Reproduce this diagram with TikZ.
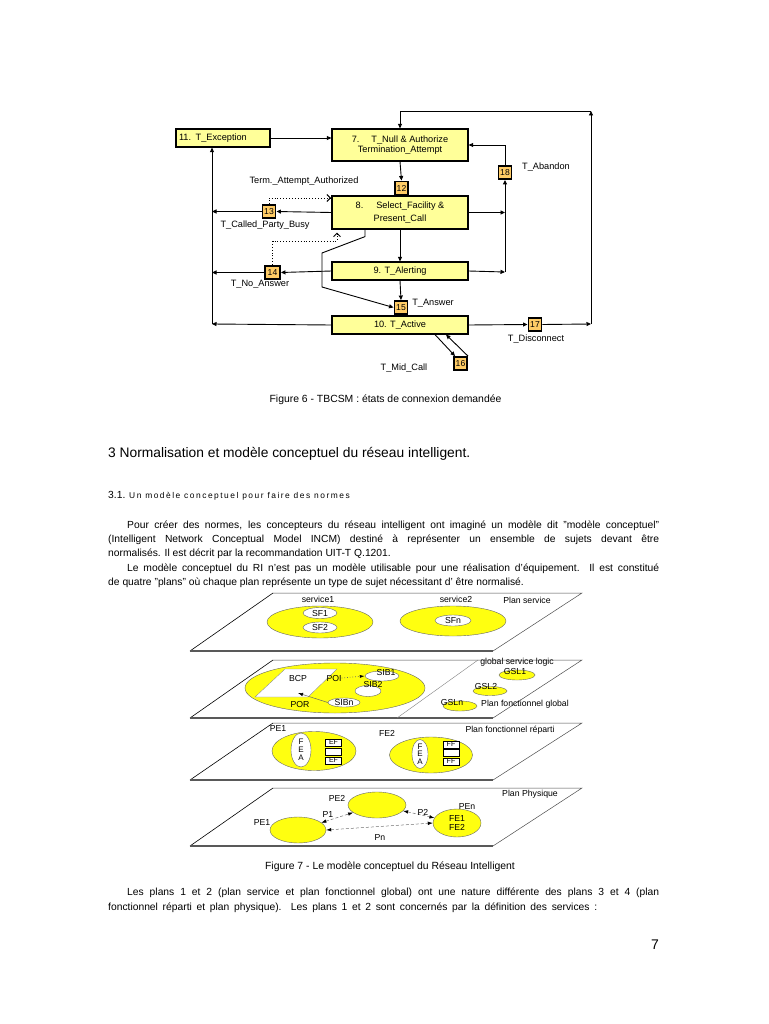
\documentclass[tikz,border=0pt]{standalone}
\usepackage{fontspec}
\setmainfont{Liberation Sans}
\newfontfamily\spacedfont[LetterSpace=18]{Liberation Sans}
\usetikzlibrary{arrows.meta,shapes.geometric,calc}
\definecolor{boxy}{HTML}{FFFF99}
\definecolor{numo}{HTML}{FFCC66}
\definecolor{ely}{HTML}{FFFF10}
\newcommand\labfont{\fontsize{9.2}{10.5}\selectfont}
\newcommand\smfont{\fontsize{8.7}{9}\selectfont}
\newcommand\bodyfont{\fontsize{10.3}{12}\selectfont}
\begin{document}
\begin{tikzpicture}[x=1pt,y=-1pt,
 sbox/.style={draw, line width=1.2pt, fill=boxy, inner sep=1pt, font=\labfont},
 nbox/.style={draw, line width=1.9pt, fill=numo, inner sep=0pt, minimum width=13pt, minimum height=13pt, font=\fontsize{8.6}{9}\selectfont},
 arr/.style={line width=0.9pt, -{Triangle[length=4.5pt,width=4pt]}},
 dotarr/.style={line width=0.9pt, dotted, -{Straight Barb[length=3.5pt,width=7pt]}},
 lab/.style={font=\labfont, inner sep=0pt},
 sl/.style={font=\smfont, inner sep=0pt},
 body/.style={font=\bodyfont, inner sep=0pt, anchor=base west},
 yel/.style={ellipse, draw=black!60, line width=0.4pt, fill=ely, inner sep=0pt},
 wel/.style={ellipse, draw=black!60, line width=0.4pt, fill=white, inner sep=0pt, font=\smfont},
 efb/.style={draw, line width=0.9pt, fill=white, inner sep=0pt, minimum width=16pt, minimum height=7pt, font=\fontsize{7}{7}\selectfont},
 dl/.style={densely dashed, black!55, line width=0.5pt, {Latex[length=5pt,width=3.5pt,black]}-{Latex[length=5pt,width=3.5pt,black]}}
]
\useasboundingbox (0,0) rectangle (768,1024);
\fill[white] (0,0) rectangle (768,1024);

% ---------------- Figure 6 ----------------
\node[sbox, minimum width=94pt, minimum height=18pt, text width=88pt, align=left] (b11) at (223,138) {11. T\_Exception};
\node[sbox, minimum width=136pt, minimum height=32pt, align=center] (b7) at (400,145) {7.\hspace{12pt}T\_Null \& Authorize\\[0pt]Termination\_Attempt};
\node[sbox, minimum width=136pt, minimum height=33pt, align=center] (b8) at (400,212.5) {8.\hspace{13pt}Select\_Facility \&\\[3pt]Present\_Call};
\node[sbox, minimum width=136pt, minimum height=18pt] (b9) at (400,271) {9. T\_Alerting};
\node[sbox, minimum width=136pt, minimum height=18pt] (b10) at (400,325) {10. T\_Active};

\node[nbox] (n12) at (401.5,188) {12};
\node[nbox] (n13) at (269,211.5) {13};
\node[nbox, minimum width=15pt] (n14) at (272.5,272.5) {14};
\node[nbox] (n15) at (401,307.5) {15};
\node[nbox] (n16) at (460.5,363.5) {16};
\node[nbox] (n17) at (535,324.5) {17};
\node[nbox] (n18) at (505,172.5) {18};

\coordinate (lv) at (212,324);
\coordinate (cR) at (591,324);
\coordinate (cTop) at (591,111);
\coordinate (v18b) at (505,272);
\coordinate (v18m) at (505,212.5);
\coordinate (d13) at (331,198);
\coordinate (dA) at (337,241);

\draw[arr] (b11.east) -- (b11.east -| b7.west);
\draw[arr] (n17.east) -- (cR);
\draw[arr] (cR) -- (cTop);
\draw[arr] (cTop) -| (b7.north);
\draw[arr] (b7.south) -- (n12.north);
\draw[arr] (b8.west) -- (n13.east);
\draw[arr] (n13.west) -- (n13.west -| lv);
\draw[dotarr] (n13.north) |- (d13);
\draw[arr] (b8.east) -- (v18m);
\draw[arr] (b9.east) -- (v18b);
\draw[arr] (v18b) -- (n18.south);
\draw[arr] (n18.north) |- (b7.east);
\draw[arr] (b8.south) -- (b9.north);
\draw[dotarr, shorten >=3pt] (n14.north) |- (dA) -- (dA |- b8.south);
\draw[arr] (b9.west) -- (n14.east);
\draw[arr] (n14.west) -- (n14.west -| lv);
\draw[arr] (b9.south) -- (n15.north);
\draw[arr] ([xshift=-35pt]b8.south) -- ++(0,7) -- (322,253) -- (322,287) -- (n15.west);
\draw[arr] (b10.west) -- (lv);
\draw[arr] (lv) -- (lv |- b11.south);
\draw[arr] (b10.east) -- (n17.west);
\draw[arr] ([xshift=35pt]b10.south) -- ([xshift=2pt]n16.north west);
\draw[arr] (n16.north east) -- ([xshift=46pt]b10.south);

\node[lab] (lTAA) at (304,181) {Term.\_Attempt\_Authorized};
\node[lab] (lCPB) at (265,225) {T\_Called\_Party\_Busy};
\node[lab] (lAb) at (546,167) {T\_Abandon};
\node[lab] (lNA) at (260,284) {T\_No\_Answer};
\node[lab] (lAn) at (433,303) {T\_Answer};
\node[lab] (lDis) at (536,339) {T\_Disconnect};
\node[lab] (lMid) at (404,368) {T\_Mid\_Call};

\node[font=\fontsize{10.4}{12}\selectfont, inner sep=0pt, anchor=base] (cap6) at (385.5,402.5) {Figure 6 - TBCSM : états de connexion demandée};

% ---------------- Text ----------------
\node[font=\fontsize{13.8}{16}\selectfont, inner sep=0pt, anchor=base west] (h3) at (108,457.5) {3 Normalisation et modèle conceptuel du réseau intelligent.};
\node[body] (h31) at (108,498) {3.1. {\spacedfont\fontsize{8.4}{10}\selectfont Un modèle conceptuel pour faire des normes}};

\node[body] (p1) at (127,528) {\makebox[532pt][s]{Pour créer des normes, les concepteurs du réseau intelligent ont imaginé un modèle dit "modèle conceptuel"}};
\node[body] (p2) at (108,542.5) {\makebox[551pt][s]{(Intelligent Network Conceptual Model INCM) destiné à représenter un ensemble de sujets devant être}};
\node[body] (p3) at (108,556.5) {normalisés. Il est décrit par la recommandation UIT-T Q.1201.};
\node[body] (p4) at (127,571) {\makebox[532pt][s]{Le modèle conceptuel du RI n'est pas un modèle utilisable pour une réalisation d'équipement. Il est constitué}};
\node[body] (p5) at (108,585.5) {de quatre "plans" où chaque plan représente un type de sujet nécessitant d' être normalisé.};

% ---------------- Figure 7 : planes ----------------
\foreach \ta/\tb in {593/651, 660/718, 723/780, 788/846} {
  \draw[line width=0.5pt, black!70] (273,\ta) -- (582,\ta) -- (493,\tb);
  \draw[line width=0.6pt] (273,\ta) -- (190,\tb);
  \draw[line width=1.4pt, black!65] (190,\tb) -- (493,\tb);
}

% plane 1
\node[yel, minimum width=106pt, minimum height=32pt] (s1) at (320,622) {};
\node[wel, minimum width=34pt, minimum height=11pt] (sf1) at (320,613) {SF1};
\node[wel, minimum width=34pt, minimum height=11pt] (sf2) at (320,627.5) {SF2};
\node[yel, minimum width=106pt, minimum height=30pt] (s2) at (453,621) {};
\node[wel, minimum width=36pt, minimum height=11pt] (sfn) at (453,620.5) {SFn};
\node[sl] (tsv1) at (318,599) {service1};
\node[sl] (tsv2) at (456,599) {service2};
\node[sl] (tps) at (527,600) {Plan service};

% plane 2
\node[yel, minimum width=180pt, minimum height=50pt] (gbig) at (335,688) {};
\filldraw[fill=white, draw=black!50, line width=0.3pt] (285,669) -- (337,669) -- (308,697) -- (255,697) -- cycle;
\node[wel, minimum width=34pt, minimum height=10pt] (sib1) at (382,676) {};
\node[wel, minimum width=26pt, minimum height=11pt] (sib2) at (368,691) {};
\node[wel, minimum width=32pt, minimum height=9pt] (sibn) at (344,702.5) {SIBn};
\node[sl] (tsib1) at (386,672.5) {SIB1};
\node[sl] (tsib2) at (373,684.5) {SIB2};
\node[sl] (tbcp) at (298,678) {BCP};
\node[sl] (tpoi) at (334,678) {POI};
\node[sl] (tpor) at (300,704) {POR};
\coordinate (porpt) at (298,693);
\draw[dotted, black!60, line width=0.7pt, -{Latex[length=5pt,width=3pt,black]}] (tpoi.east) -- (sib1.west);
\draw[black!60, line width=0.5pt, -{Latex[length=5pt,width=3.5pt,black]}] (sibn.west) -- (porpt);
\draw[black!50, line width=0.4pt] (478,660) -- (397,718);
\node[yel, minimum width=36pt, minimum height=10pt] (gsl1) at (517,675) {};
\node[yel, minimum width=34pt, minimum height=9pt] (gsl2) at (490,691) {};
\node[yel, minimum width=34pt, minimum height=10pt] (gsln) at (460,706) {};
\node[sl] (tgsl1) at (515,671) {GSL1};
\node[sl] (tgsl2) at (486,686) {GSL2};
\node[sl] (tgsln) at (452,702) {GSLn};
\node[sl] (tgsl) at (517,662) {global service logic};
\node[sl] (tpfg) at (525,704) {Plan fonctionnel global};

% plane 3
\node[yel, minimum width=84pt, minimum height=39pt] (fe1) at (314,751) {};
\node[wel, minimum width=20pt, minimum height=34pt, align=center, font=\fontsize{8}{8}\selectfont] (fea1) at (301,750) {F\\E\\A};
\node[efb] (ef1) at (333.5,742.5) {EF};
\node[efb] (ef2) at (333.5,751.5) {};
\node[efb] (ef3) at (333.5,760.5) {EF};
\node[yel, minimum width=83pt, minimum height=36pt] (fe2) at (431,755) {};
\node[wel, minimum width=16pt, minimum height=25pt, align=center, font=\fontsize{8}{7.5}\selectfont] (fea2) at (420,754) {F\\E\\A};
\node[efb] (ff1) at (451,744.5) {FF};
\node[efb] (ff2) at (451,753) {};
\node[efb] (ff3) at (451,761.5) {FF};
\node[sl] (tpe1a) at (278,728) {PE1};
\node[sl] (tfe2) at (387,733) {FE2};
\node[sl] (tpfr) at (510,730) {Plan fonctionnel réparti};

% plane 4
\node[yel, minimum width=58pt, minimum height=26pt] (pe2) at (377,805) {};
\node[yel, minimum width=56pt, minimum height=26pt] (pe1e) at (298,830) {};
\node[yel, minimum width=48pt, minimum height=28pt, align=center, font=\smfont] (pen) at (457,823) {FE1\\FE2};
\draw[dl] (pe1e) -- (pe2);
\draw[dl] (pe1e.east) -- (pen.west);
\draw[dl] (pe2) -- (pen);
\node[sl] (tpp) at (530,794) {Plan Physique};
\node[sl] (tpe2) at (337,798) {PE2};
\node[sl] (tpe1b) at (262,822) {PE1};
\node[sl] (tp1) at (328,814) {P1};
\node[sl] (tpn) at (380,837) {Pn};
\node[sl] (tp2) at (423,812) {P2};
\node[sl] (tpen) at (467,806) {PEn};

\node[font=\fontsize{10.4}{12}\selectfont, inner sep=0pt, anchor=base] (cap7) at (390,869.5) {Figure 7 - Le modèle conceptuel du Réseau Intelligent};

\node[body] (q1) at (127,895.5) {\makebox[532pt][s]{Les plans 1 et 2 (plan service et plan fonctionnel global) ont une nature différente des plans 3 et 4 (plan}};
\node[body] (q2) at (108,910) {\makebox[489pt][s]{fonctionnel réparti et plan physique). Les plans 1 et 2 sont concernés par la définition des services :}};

\node[font=\fontsize{14}{16}\selectfont, inner sep=0pt, anchor=base] (pg) at (655,949) {7};
\end{tikzpicture}
\end{document}
